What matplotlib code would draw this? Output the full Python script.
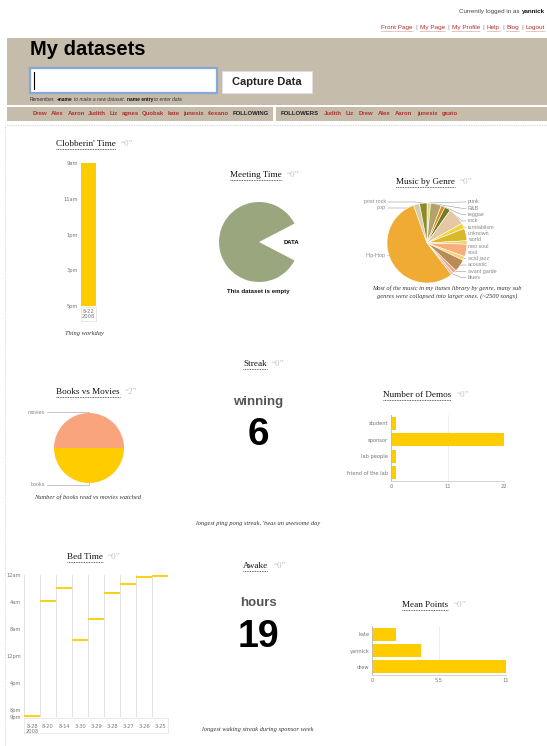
import matplotlib
matplotlib.use('Agg')
import matplotlib.pyplot as plt
from matplotlib.patches import Rectangle
import numpy as np

# ---------------- data ----------------
user = 'yannick'
nav_links = ['Front Page', 'My Page', 'My Profile', 'Help', 'Blog', 'Logout']
following = ['Drew', 'Alex', 'Aaron', 'Judith', 'Liz', 'agnes', 'Quobak', 'kate', 'junesix', 'tlexano']
followers = ['Judith', 'Liz', 'Drew', 'Alex', 'Aaron', 'junesix', 'gsato']

clob_dates = ['8-22\n2008']
clob_start = [9]
clob_end = [17]
clob_ticks = [9, 11, 13, 15, 17]
clob_tick_labels = ['9am', '11am', '1pm', '3pm', '5pm']

meeting_vals = [305, 55]  # filled part / gap labelled DATA

genres = ['punk', 'R&B', 'reggae', 'rock', 'turntablism', 'unknown', 'world',
          'neo soul', 'soul', 'acid jazz', 'acoustic', 'avant garde', 'blues',
          'Hip-Hop', 'pop', 'post rock']
genre_songs = [35, 110, 40, 60, 175, 55, 125, 35, 125, 40, 125, 35, 25, 1370, 60, 75]
genre_colors = ['#d7e27c', '#b3a36b', '#e08c1c', '#707d22', '#e6c7a3', '#f3d23c',
                '#d9b92a', '#f0cf6a', '#f7ae7c', '#f5d66a', '#b98b55', '#f2a07c',
                '#e9b8a0', '#efab34', '#d8cda5', '#8e8a2a']

books_movies_labels = ['movies', 'books']
books_movies = [10, 10]

demo_groups = ['student', 'sponsor', 'lab people', 'friend of the lab']
demo_counts = [1, 22, 1, 1]
demo_ticks = [0, 11, 22]

bed_dates = ['8-28\n2008', '8-20', '8-14', '3-30', '3-29', '3-28', '3-27', '3-26', '3-25']
bed_hours = [20.9, 3.9, 1.9, 9.6, 6.5, 2.7, 1.4, 0.25, 0.1]
bed_ticks = [0, 4, 8, 12, 16, 20, 21]
bed_tick_labels = ['12am', '4am', '8am', '12pm', '4pm', '8pm', '9pm']

mean_names = ['kate', 'yannick', 'drew']
mean_points = [2, 4, 11]
mean_ticks = [0, 5.5, 11]

streak_value = 6
awake_value = 19

# ---------------- style ----------------
SERIF = ['Liberation Serif', 'DejaVu Serif']
SANS = ['Liberation Sans', 'DejaVu Sans']
GOLD = '#ffcc00'
TAN = '#c5bcac'
LINK = '#b0322c'
TICK = '#777777'

W, H = 547, 746
fig = plt.figure(figsize=(W / 100, H / 100), dpi=100)
fig.patch.set_facecolor('white')
bg = fig.add_axes([0, 0, 1, 1])
bg.set_xlim(0, W)
bg.set_ylim(H, 0)
bg.axis('off')
renderer = fig.canvas.get_renderer()


def px_axes(x0, y0, x1, y1):
    return fig.add_axes([x0 / W, 1 - y1 / H, (x1 - x0) / W, (y1 - y0) / H])


def width_of(t):
    return t.get_window_extent(renderer).width


def run(x, y, parts, gap=3, ha='left'):
    texts = [bg.text(0, y, s, va='center', ha='left', **kw) for s, kw in parts]
    widths = [width_of(t) for t in texts]
    total = sum(widths) + gap * (len(texts) - 1)
    cur = x - total if ha == 'right' else x
    spans = []
    for t, w in zip(texts, widths):
        t.set_x(cur)
        spans.append((cur, cur + w))
        cur += w + gap
    return spans


def panel_title(x, y, title, count='0'):
    t = bg.text(x, y, title, family=SERIF, fontsize=6.6, ha='left', va='center', color='#111')
    w = width_of(t)
    bg.plot([x, x + w], [y + 5, y + 5], color='#333', lw=0.6, ls=(0, (1, 1)))
    bg.text(x + w + 5, y, '\u201c' + count + '\u201d', family=SERIF, fontsize=6.6,
            color='#c4c4c4', ha='left', va='center')


def caption(x, y, s):
    bg.text(x, y, s, family=SERIF, style='italic', fontsize=4.6, color='#333',
            ha='center', va='center')


def style_bar_axes(ax):
    for side in ['top', 'right']:
        ax.spines[side].set_visible(False)
    ax.spines['left'].set_color('#bbbbbb')
    ax.spines['bottom'].set_color('#cccccc')
    ax.spines['left'].set_linewidth(0.6)
    ax.spines['bottom'].set_linewidth(0.6)
    ax.tick_params(length=0, labelsize=3.7, labelcolor=TICK, pad=2)
    ax.set_facecolor('none')


# ---------------- header ----------------
run(545, 12, [('Currently logged in as', dict(family=SANS, fontsize=4.5, color='#444')),
              (user, dict(family=SANS, fontsize=4.5, fontweight='bold', color='#111'))],
    gap=2, ha='right')

parts = []
for i, name in enumerate(nav_links):
    if i:
        parts.append(('|', dict(family=SANS, fontsize=4.6, color='#888')))
    parts.append((name, dict(family=SANS, fontsize=4.6, color=LINK)))
spans = run(545, 27, parts, gap=2.5, ha='right')
for (s, kw), (a, b) in zip(parts, spans):
    if s != '|':
        bg.plot([a, b], [30.5, 30.5], color=LINK, lw=0.4, ls=(0, (1, 1)))

bg.add_patch(Rectangle((7, 38), W - 7, 67, facecolor=TAN, edgecolor='none'))
bg.add_patch(Rectangle((7, 107), W - 7, 14, facecolor=TAN, edgecolor='none'))
bg.plot([274, 274], [107, 121], color='white', lw=2)
bg.plot([7, W], [124.5, 124.5], color='#aaaaaa', lw=0.5, ls=(0, (1, 1.5)))
bg.plot([5, 5], [125, H], color='#bbbbbb', lw=0.5, ls=(0, (1, 1.5)))

bg.text(30, 55, 'My datasets', family=SANS, fontsize=14.5, fontweight='bold',
        ha='left', va='baseline', color='#000')
bg.add_patch(Rectangle((30, 68), 187, 25, facecolor='white', edgecolor='#86a8d6', lw=1.6))
bg.plot([33.5, 33.5], [72, 89], color='#000', lw=0.8)
bg.add_patch(Rectangle((222, 71), 90, 22, facecolor='white', edgecolor='#e0e0e0', lw=0.6))
bg.text(267, 82, 'Capture Data', family=SANS, fontsize=8, fontweight='bold',
        ha='center', va='center', color='#222')
run(30, 99.5, [('Remember.', dict(family=SANS, fontsize=3.5, color='#333')),
               ('+name', dict(family=SANS, fontsize=3.5, fontweight='bold', color='#111')),
               ('to make a new dataset.', dict(family=SANS, fontsize=3.5, style='italic', color='#333')),
               ('name entry', dict(family=SANS, fontsize=3.5, fontweight='bold', color='#111')),
               ('to enter data', dict(family=SANS, fontsize=3.5, style='italic', color='#333'))],
    gap=1.5)

name_kw = dict(family=SANS, fontsize=4.3, fontweight='bold', color=LINK)
head_kw = dict(family=SANS, fontsize=4.3, fontweight='bold', color='#222')
run(33, 113.5, [(n, name_kw) for n in following] + [('FOLLOWING', head_kw)], gap=3.5)
run(281, 113.5, [('FOLLOWERS', head_kw)] + [(n, name_kw) for n in followers], gap=4.5)

# ---------------- Clobberin' Time ----------------
panel_title(56, 144, "Clobberin' Time")
ax = px_axes(81, 163, 96, 306)
ax.bar(range(len(clob_dates)), np.array(clob_end) - np.array(clob_start),
       bottom=clob_start, width=1.0, color=GOLD)
ax.set_xlim(-0.5, len(clob_dates) - 0.5)
ax.set_ylim(clob_end[0], clob_start[0])
ax.set_yticks(clob_ticks, clob_tick_labels)
ax.set_xticks(range(len(clob_dates)), clob_dates)
style_bar_axes(ax)
ax.spines['left'].set_visible(False)
ax.spines['bottom'].set_visible(False)
ax.tick_params(axis='y', pad=2)
for lab in ax.get_xticklabels():
    lab.set_linespacing(1.1)
bg.add_patch(Rectangle((81, 307), 15, 14, facecolor='none', edgecolor='#dddddd', lw=0.5))
caption(84, 334, 'Thing workday')

# ---------------- Meeting Time ----------------
panel_title(230, 175, 'Meeting Time')
ax = px_axes(219, 202, 299, 282)
ax.pie(meeting_vals, colors=['#9aa77e', 'none'], startangle=meeting_vals[1] / 2)
ax.set_xlim(-1, 1)
ax.set_ylim(-1, 1)
bg.text(291, 242, 'DATA', family=SANS, fontsize=4.2, fontweight='bold', ha='center', va='center')
bg.text(258, 292, 'This dataset is empty', family=SANS, fontsize=4.4, fontweight='bold',
        ha='center', va='center', color='#111')

# ---------------- Music by Genre ----------------
panel_title(396, 182, 'Music by Genre')
cx, cy, r = 427, 243, 40
ax = px_axes(cx - r, cy - r, cx + r, cy + r)
ax.pie(genre_songs, colors=genre_colors, startangle=90, counterclock=False,
       wedgeprops=dict(edgecolor='white', linewidth=0.4))
ax.set_xlim(-1, 1)
ax.set_ylim(-1, 1)
total = sum(genre_songs)
cum = 0
lab_kw = dict(family=SANS, fontsize=3.9, color='#888888', va='center')
left_pos = {'Hip-Hop': 255, 'pop': 208, 'post rock': 202}
k = 0
for g, v in zip(genres, genre_songs):
    mid = np.radians(90 - (cum + v / 2) / total * 360)
    cum += v
    ex, ey = cx + r * np.cos(mid), cy - r * np.sin(mid)
    if g in left_pos:
        ly = left_pos[g]
        bg.text(386, ly, g, ha='right', **lab_kw)
        if g == 'Hip-Hop':
            ex = cx - np.sqrt(r ** 2 - (ly - cy) ** 2)
            bg.plot([387, ex], [ly, ly], color='#999', lw=0.4)
        else:
            bg.plot([388, ex - 8, ex], [ly, ly, ey], color='#999', lw=0.4)
    else:
        ly = 202 + k * 6.3
        k += 1
        bg.text(468, ly, g, ha='left', **lab_kw)
        bg.plot([ex, 462, 466], [ey, ly, ly], color='#999', lw=0.4)
caption(447, 288, 'Most of the music in my itunes library by genre, many sub')
caption(447, 296, 'genres were collapsed into larger ones. (~2500 songs)')

# ---------------- Streak ----------------
panel_title(243, 364, 'Streak')
bg.text(258, 402, 'winning', family=SANS, fontsize=9.5, fontweight='bold', color='#555',
        ha='center', va='center')
bg.text(258, 435, str(streak_value), family=SANS, fontsize=28, fontweight='bold', color='#000',
        ha='center', va='center')
caption(258, 524, "longest ping pong streak, 'twas an awesome day")

# ---------------- Books vs Movies ----------------
panel_title(56, 392, 'Books vs Movies', count=str(len(books_movies)))
bx, by, br = 89, 448, 35
ax = px_axes(bx - br, by - br, bx + br, by + br)
ax.pie(books_movies, colors=['#f9a47c', GOLD], startangle=0)
ax.set_xlim(-1, 1)
ax.set_ylim(-1, 1)
for lab, ly, ey in zip(books_movies_labels, [412, 485], [by - br, by + br]):
    bg.text(45, ly, lab, ha='right', **lab_kw)
    bg.plot([47, bx, bx], [ly, ly, ey], color='#999', lw=0.4)
caption(88, 497, 'Number of books read vs movies watched')

# ---------------- Number of Demos ----------------
panel_title(383, 395, 'Number of Demos')
ax = px_axes(391, 415, 504, 481)
yy = np.arange(len(demo_groups))
ax.barh(yy, demo_counts, height=0.78, color=GOLD)
ax.set_ylim(len(demo_groups) - 0.5, -0.5)
ax.set_xlim(0, demo_ticks[-1])
ax.set_yticks(yy, demo_groups)
ax.set_xticks(demo_ticks, [str(t) for t in demo_ticks])
style_bar_axes(ax)
ax.grid(axis='x', color='#e6e6e6', lw=0.5)
ax.set_axisbelow(True)

# ---------------- Bed Time ----------------
panel_title(67, 557, 'Bed Time')
ax = px_axes(24, 575, 168, 717)
for i, hv in enumerate(bed_hours):
    ax.hlines(hv, i, i + 1, color=GOLD, lw=1.3)
for i in range(len(bed_dates) + 1):
    ax.axvline(i, color='#dddddd', lw=0.6, zorder=0)
ax.set_xlim(0, len(bed_dates))
ax.set_ylim(bed_ticks[-1], bed_ticks[0])
ax.set_yticks(bed_ticks, bed_tick_labels)
ax.set_xticks(np.arange(len(bed_dates)) + 0.5, bed_dates)
for s in ax.spines.values():
    s.set_visible(False)
ax.tick_params(length=0, labelsize=3.7, labelcolor=TICK, pad=2)
ax.tick_params(axis='x', pad=5)
for lab in ax.get_xticklabels():
    lab.set_linespacing(1.1)
ax.set_facecolor('none')
bg.add_patch(Rectangle((24, 718), 144, 15, facecolor='none', edgecolor='#e0e0e0', lw=0.5))

# ---------------- Awake ----------------
panel_title(243, 566, 'Awake')
bg.text(258, 603, 'hours', family=SANS, fontsize=9.5, fontweight='bold', color='#555',
        ha='center', va='center')
bg.text(258, 637, str(awake_value), family=SANS, fontsize=27, fontweight='bold', color='#000',
        ha='center', va='center')
caption(258, 730, 'longest waking streak during sponsor week')

# ---------------- Mean Points ----------------
panel_title(402, 605, 'Mean Points')
ax = px_axes(372, 626, 506, 675)
yy = np.arange(len(mean_names))
ax.barh(yy, mean_points, height=0.78, color=GOLD)
ax.set_ylim(len(mean_names) - 0.5, -0.5)
ax.set_xlim(0, mean_ticks[-1])
ax.set_yticks(yy, mean_names)
ax.set_xticks(mean_ticks, ['0', '5.5', '11'])
style_bar_axes(ax)
ax.grid(axis='x', color='#e6e6e6', lw=0.5)
ax.set_axisbelow(True)

fig.savefig('out.png', dpi=100)
